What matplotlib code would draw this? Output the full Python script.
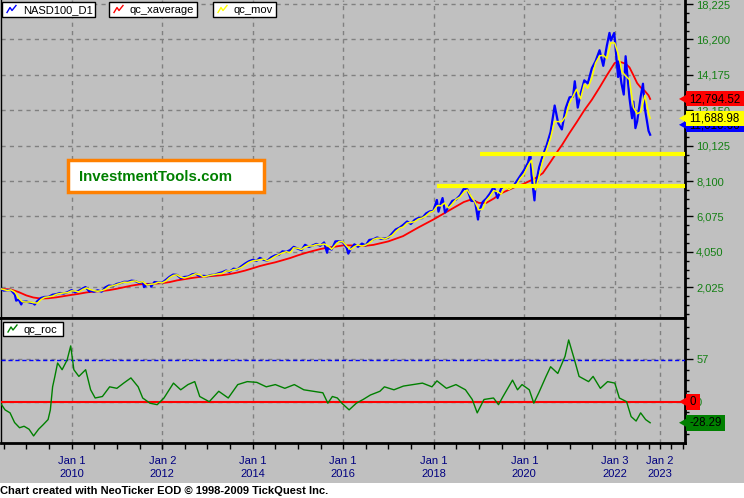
import matplotlib
matplotlib.use('Agg')
import matplotlib.pyplot as plt
import numpy as np
import pandas as pd
from matplotlib.patches import Rectangle, Polygon
from matplotlib.ticker import MultipleLocator, FixedLocator, FuncFormatter
from matplotlib.transforms import Bbox

plt.rcParams['font.family'] = ['Liberation Sans', 'DejaVu Sans']

# ---------------- data ----------------
blue_dates = [
    '2008-06-13', '2008-06-30', '2008-07-31', '2008-08-29', '2008-09-30', '2008-10-10', '2008-10-31',
    '2008-11-20', '2008-11-28', '2008-12-31',
    '2009-01-30', '2009-02-27', '2009-03-09', '2009-03-31', '2009-04-30', '2009-05-29', '2009-06-30',
    '2009-07-31', '2009-08-31', '2009-09-30', '2009-10-30', '2009-11-30', '2009-12-31',
    '2010-01-29', '2010-02-26', '2010-03-31', '2010-04-23', '2010-05-25', '2010-05-28', '2010-06-30',
    '2010-07-30', '2010-08-31', '2010-09-30', '2010-10-29', '2010-11-30', '2010-12-31',
    '2011-01-31', '2011-02-28', '2011-03-31', '2011-04-29', '2011-05-31', '2011-06-30', '2011-07-29',
    '2011-08-08', '2011-08-31', '2011-09-30', '2011-10-04', '2011-10-31', '2011-11-30', '2011-12-30',
    '2012-01-31', '2012-02-29', '2012-03-30', '2012-04-30', '2012-05-31', '2012-06-29', '2012-07-31',
    '2012-08-31', '2012-09-28', '2012-10-31', '2012-11-30', '2012-12-31',
    '2013-01-31', '2013-02-28', '2013-03-28', '2013-04-30', '2013-05-31', '2013-06-28', '2013-07-31',
    '2013-08-30', '2013-09-30', '2013-10-31', '2013-11-29', '2013-12-31',
    '2014-01-31', '2014-02-28', '2014-03-31', '2014-04-30', '2014-05-30', '2014-06-30', '2014-07-31',
    '2014-08-29', '2014-09-30', '2014-10-31', '2014-11-28', '2014-12-31',
    '2015-01-30', '2015-02-27', '2015-03-31', '2015-04-30', '2015-05-29', '2015-06-30', '2015-07-31',
    '2015-08-24', '2015-08-31', '2015-09-30', '2015-10-30', '2015-11-30', '2015-12-31',
    '2016-01-29', '2016-02-11', '2016-02-29', '2016-03-31', '2016-04-29', '2016-05-31', '2016-06-30',
    '2016-07-29', '2016-08-31', '2016-09-30', '2016-10-31', '2016-11-30', '2016-12-30',
    '2017-01-31', '2017-02-28', '2017-03-31', '2017-04-28', '2017-05-31', '2017-06-30', '2017-07-31',
    '2017-08-31', '2017-09-29', '2017-10-31', '2017-11-30', '2017-12-29',
    '2018-01-26', '2018-02-08', '2018-02-28', '2018-03-13', '2018-04-02', '2018-04-30', '2018-05-31',
    '2018-06-29', '2018-07-31', '2018-08-31', '2018-09-28', '2018-10-31', '2018-11-30', '2018-12-24',
    '2018-12-31',
    '2019-01-31', '2019-02-28', '2019-03-29', '2019-04-30', '2019-05-31', '2019-06-28', '2019-07-31',
    '2019-08-30', '2019-09-30', '2019-10-31', '2019-11-29', '2019-12-31',
    '2020-01-31', '2020-02-19', '2020-02-28', '2020-03-23', '2020-03-31', '2020-04-30', '2020-05-29',
    '2020-06-30', '2020-07-31', '2020-09-02', '2020-09-30', '2020-10-30', '2020-11-30', '2020-12-31',
    '2021-01-29', '2021-02-12', '2021-03-08', '2021-03-31', '2021-04-30', '2021-05-28', '2021-06-30',
    '2021-07-30', '2021-08-31', '2021-09-30', '2021-10-29', '2021-11-19', '2021-11-30', '2021-12-27',
    '2021-12-31',
    '2022-01-27', '2022-01-31', '2022-02-23', '2022-03-14', '2022-03-29', '2022-04-29', '2022-05-20',
    '2022-05-31', '2022-06-16', '2022-06-30', '2022-07-29', '2022-08-16', '2022-08-31', '2022-09-30',
    '2022-10-13',
]
blue_vals = [
    1930, 1837, 1860, 1872, 1604, 1260, 1329,
    1043, 1192, 1212,
    1149, 1110, 1036, 1237, 1417, 1475, 1477,
    1600, 1633, 1701, 1666, 1749, 1860,
    1738, 1817, 1957, 2040, 1780, 1863, 1770,
    1856, 1773, 2019, 2129, 2098, 2218,
    2266, 2338, 2339, 2406, 2378, 2274, 2327,
    2040, 2165, 2210, 2060, 2325, 2301, 2278,
    2451, 2623, 2753, 2734, 2538, 2616, 2640,
    2770, 2799, 2660, 2680, 2660,
    2731, 2738, 2819, 2887, 2983, 2910, 3090,
    3049, 3218, 3378, 3501, 3592,
    3530, 3709, 3596, 3552, 3736, 3849, 3880,
    4083, 4049, 4158, 4337, 4236,
    4152, 4455, 4334, 4417, 4508, 4397, 4589,
    4000, 4275, 4182, 4648, 4664, 4593,
    4280, 3950, 4202, 4483, 4341, 4524, 4418,
    4730, 4771, 4875, 4801, 4810, 4864,
    5114, 5330, 5436, 5584, 5788, 5647, 5880,
    5988, 5979, 6248, 6365, 6397,
    7022, 6350, 6854, 7130, 6300, 6606, 6968,
    7040, 7272, 7660, 7628, 6968, 6949, 5899,
    6330,
    6906, 7097, 7378, 7781, 7127, 7672, 7848,
    7663, 7750, 8084, 8403, 8733,
    9151, 9718, 8462, 6994, 7813, 8890, 9555,
    10157, 10905, 12420, 11418, 11052, 12268, 12888,
    12925, 13807, 12299, 13091, 13860, 13686, 14554,
    14959, 15582, 14689, 15850, 16573, 16135, 16567,
    16320,
    14050, 14930, 13700, 13046, 15239, 12855, 11690,
    12643, 11127, 11504, 12947, 13667, 12272, 10971,
    10750,
]

yellow_dates = [
    '2008-06-13', '2008-06-30', '2008-07-31', '2008-08-29', '2008-09-30', '2008-10-31', '2008-11-28', '2008-12-31',
    '2009-01-30', '2009-02-27', '2009-03-31', '2009-04-30', '2009-05-29', '2009-06-30', '2009-07-31', '2009-08-31',
    '2009-09-30', '2009-10-30', '2009-11-30', '2009-12-31',
    '2010-01-29', '2010-02-26', '2010-03-31', '2010-04-30', '2010-05-28', '2010-06-30', '2010-07-30', '2010-08-31',
    '2010-09-30', '2010-10-29', '2010-11-30', '2010-12-31',
    '2011-01-31', '2011-02-28', '2011-03-31', '2011-04-29', '2011-05-31', '2011-06-30', '2011-07-29', '2011-08-31',
    '2011-09-30', '2011-10-31', '2011-11-30', '2011-12-30',
    '2012-01-31', '2012-02-29', '2012-03-30', '2012-04-30', '2012-05-31', '2012-06-29', '2012-07-31', '2012-08-31',
    '2012-09-28', '2012-10-31', '2012-11-30', '2012-12-31',
    '2013-01-31', '2013-02-28', '2013-03-28', '2013-04-30', '2013-05-31', '2013-06-28', '2013-07-31', '2013-08-30',
    '2013-09-30', '2013-10-31', '2013-11-29', '2013-12-31',
    '2014-01-31', '2014-02-28', '2014-03-31', '2014-04-30', '2014-05-30', '2014-06-30', '2014-07-31', '2014-08-29',
    '2014-09-30', '2014-10-31', '2014-11-28', '2014-12-31',
    '2015-01-30', '2015-02-27', '2015-03-31', '2015-04-30', '2015-05-29', '2015-06-30', '2015-07-31', '2015-08-31',
    '2015-09-30', '2015-10-30', '2015-11-30', '2015-12-31',
    '2016-01-29', '2016-02-29', '2016-03-31', '2016-04-29', '2016-05-31', '2016-06-30', '2016-07-29', '2016-08-31',
    '2016-09-30', '2016-10-31', '2016-11-30', '2016-12-30',
    '2017-01-31', '2017-02-28', '2017-03-31', '2017-04-28', '2017-05-31', '2017-06-30', '2017-07-31', '2017-08-31',
    '2017-09-29', '2017-10-31', '2017-11-30', '2017-12-29',
    '2018-01-31', '2018-02-28', '2018-03-29', '2018-04-30', '2018-05-31', '2018-06-29', '2018-07-31', '2018-08-31',
    '2018-09-28', '2018-10-31', '2018-11-30', '2018-12-31',
    '2019-01-31', '2019-02-28', '2019-03-29', '2019-04-30', '2019-05-31', '2019-06-28', '2019-07-31', '2019-08-30',
    '2019-09-30', '2019-10-31', '2019-11-29', '2019-12-31',
    '2020-01-31', '2020-02-28', '2020-03-31', '2020-04-30', '2020-05-29', '2020-06-30', '2020-07-31', '2020-08-31',
    '2020-09-30', '2020-10-30', '2020-11-30', '2020-12-31',
    '2021-01-29', '2021-02-26', '2021-03-31', '2021-04-30', '2021-05-28', '2021-06-30', '2021-07-30', '2021-08-31',
    '2021-09-30', '2021-10-29', '2021-11-30', '2021-12-31',
    '2022-01-31', '2022-02-28', '2022-03-31', '2022-04-29', '2022-05-31', '2022-06-30', '2022-07-29', '2022-08-31',
    '2022-09-30', '2022-10-13',
]
yellow_vals = [
    1930, 1900, 1840, 1880, 1750, 1400, 1200, 1180,
    1190, 1140, 1120, 1330, 1450, 1480, 1520, 1620,
    1670, 1700, 1720, 1820,
    1810, 1760, 1900, 1990, 1900, 1830, 1800, 1830,
    1910, 2070, 2110, 2180,
    2250, 2320, 2300, 2360, 2390, 2300, 2350, 2150,
    2200, 2220, 2310, 2270,
    2380, 2570, 2700, 2740, 2600, 2560, 2620, 2720,
    2800, 2740, 2620, 2670,
    2720, 2750, 2790, 2820, 2960, 2950, 3030, 3070,
    3150, 3300, 3440, 3530,
    3560, 3600, 3650, 3540, 3650, 3790, 3900, 3990,
    4060, 4000, 4280, 4260,
    4190, 4330, 4390, 4390, 4470, 4450, 4500, 4400,
    4200, 4450, 4650, 4620,
    4380, 4180, 4350, 4450, 4380, 4440, 4560, 4760,
    4830, 4840, 4780, 4880,
    5000, 5220, 5400, 5470, 5700, 5730, 5780, 5930,
    5980, 6120, 6310, 6380,
    6700, 6680, 6850, 6560, 6800, 7050, 7180, 7450,
    7590, 7200, 6900, 6450,
    6500, 6990, 7220, 7550, 7500, 7350, 7770, 7620,
    7750, 7880, 8250, 8500,
    8980, 9300, 7600, 8400, 9250, 9900, 10550, 11500,
    11500, 11500, 11800, 12550,
    12950, 13350, 12800, 13650, 13400, 14000, 14850, 15250,
    15300, 15100, 16000, 16000,
    15300, 14350, 14100, 13900, 12300, 11950, 12050, 13000,
    12000, 11689,
]

red_dates = [
    '2008-06-13', '2008-08-29', '2008-10-31', '2008-12-31', '2009-02-27', '2009-04-30', '2009-06-30',
    '2009-08-31', '2009-10-30', '2009-12-31', '2010-02-26', '2010-04-30', '2010-06-30', '2010-08-31',
    '2010-10-29', '2010-12-31', '2011-02-28', '2011-04-29', '2011-06-30', '2011-08-31', '2011-10-31',
    '2011-12-30', '2012-02-29', '2012-04-30', '2012-06-29', '2012-08-31', '2012-10-31', '2012-12-31',
    '2013-02-28', '2013-04-30', '2013-06-28', '2013-08-30', '2013-10-31', '2013-12-31', '2014-02-28',
    '2014-04-30', '2014-06-30', '2014-08-29', '2014-10-31', '2014-12-31', '2015-02-27', '2015-04-30',
    '2015-06-30', '2015-08-31', '2015-10-30', '2015-12-31', '2016-02-29', '2016-04-29', '2016-06-30',
    '2016-08-31', '2016-10-31', '2016-12-30', '2017-04-28', '2017-08-31', '2017-12-29', '2018-04-30',
    '2018-08-31', '2018-10-31', '2018-12-31', '2019-02-28', '2019-04-30', '2019-06-28', '2019-08-30',
    '2019-10-31', '2019-12-31', '2020-03-31', '2020-05-29', '2020-07-31', '2020-09-30', '2020-10-30',
    '2020-12-31', '2021-02-26', '2021-04-30', '2021-06-30', '2021-08-31', '2021-10-29', '2021-12-31',
    '2022-01-31', '2022-02-28', '2022-03-31', '2022-04-29', '2022-05-31', '2022-06-30', '2022-07-29',
    '2022-08-31', '2022-09-30', '2022-10-13',
]
red_vals = [
    1930, 1900, 1750, 1560, 1440, 1380, 1400,
    1450, 1520, 1590, 1650, 1730, 1780, 1810,
    1860, 1940, 2030, 2120, 2190, 2220, 2230,
    2260, 2320, 2420, 2490, 2560, 2620, 2650,
    2680, 2720, 2780, 2870, 2980, 3110, 3240,
    3350, 3450, 3570, 3700, 3850, 3980, 4100,
    4210, 4300, 4350, 4420, 4420, 4400, 4400,
    4450, 4550, 4650, 4950, 5450, 5900, 6400,
    6900, 7050, 6850, 6850, 7100, 7400, 7600,
    7800, 7950, 8270, 8550, 9200, 9850, 10150,
    10850, 11450, 12150, 12750, 13450, 14150, 14850,
    14930, 14880, 14800, 14600, 14150, 13700, 13450,
    13250, 13000, 12795,
]

support_levels = [7805, 9630]
support_start = [2018.08, 2019.03]

roc_years = [
    2008.43, 2008.53, 2008.64, 2008.74, 2008.85, 2008.95, 2009.06, 2009.16, 2009.27, 2009.37,
    2009.48, 2009.53, 2009.58, 2009.63, 2009.69, 2009.79, 2009.90, 2009.98, 2010.05, 2010.16,
    2010.31, 2010.42, 2010.52, 2010.68, 2010.84, 2011.00, 2011.15, 2011.31, 2011.47, 2011.57,
    2011.73, 2011.89, 2012.04, 2012.25, 2012.41, 2012.57, 2012.72, 2012.83, 2013.04, 2013.25,
    2013.46, 2013.67, 2013.88, 2014.09, 2014.30, 2014.50, 2014.71, 2014.92, 2015.13, 2015.34,
    2015.55, 2015.66, 2015.76, 2015.87, 2015.97, 2016.13, 2016.29, 2016.44, 2016.60, 2016.81,
    2016.91, 2017.12, 2017.33, 2017.54, 2017.75, 2017.96, 2018.07, 2018.28, 2018.49, 2018.70,
    2018.85, 2018.96, 2019.11, 2019.32, 2019.43, 2019.53, 2019.74, 2019.85, 2019.95, 2020.11,
    2020.21, 2020.32, 2020.48, 2020.58, 2020.74, 2020.90, 2020.98, 2021.11, 2021.21, 2021.42,
    2021.52, 2021.68, 2021.84, 2022.00, 2022.10, 2022.26, 2022.36, 2022.47, 2022.57, 2022.68,
    2022.78,
]
roc_vals = [
    -2, -11, -15, -28, -35, -33, -37, -46, -37, -31,
    -24, -11, 20, 34, 52, 43, 56, 75, 43, 34,
    43, 16, 5, 7, 20, 18, 25, 32, 20, 5,
    -2, -4, 5, 25, 16, 23, 27, 7, 0, 14,
    5, 23, 27, 26, 20, 23, 18, 23, 16, 14,
    12, -2, 7, 5, -2, -11, -2, 3, 9, 14,
    20, 16, 21, 23, 25, 20, 28, 18, 23, 16,
    3, -15, 3, 5, -4, 7, 29, 16, 23, 16,
    -2, 12, 34, 47, 38, 61, 83, 56, 34, 27,
    34, 18, 27, 25, 5, 0, -20, -26, -15, -24,
    -28.29,
]

year_ticks = ['2010-01-01', '2012-01-02', '2014-01-01', '2016-01-01', '2018-01-01',
              '2020-01-01', '2022-01-03', '2023-01-02']
year_labels = ['Jan 1\n2010', 'Jan 2\n2012', 'Jan 1\n2014', 'Jan 1\n2016', 'Jan 1\n2018',
               'Jan 1\n2020', 'Jan 3\n2022', 'Jan 2\n2023']

label_price_red = 12794.52
label_price_yellow = 11688.98
label_price_blue_text = '11,010.66'
label_roc = -28.29


def dec(dates):
    d = pd.to_datetime(pd.Series(dates))
    return (d.dt.year + (d.dt.dayofyear - 1) / 365.25).to_numpy()


# ---------------- layout ----------------
W, H = 744, 498
BG = '#C0C0C0'
GRID = '#808080'
fig = plt.figure(figsize=(W / 100, H / 100), dpi=100, facecolor=BG)


def fx(px):
    return px / W


def fy(py):
    return 1 - py / H


XMIN, XMAX = 2008.44, 2023.55
ax = fig.add_axes([fx(1), fy(318), fx(685) - fx(1), fy(0) - fy(318)])
ax2 = fig.add_axes([fx(1), fy(443), fx(685) - fx(1), fy(318) - fy(443)])
for a in (ax, ax2):
    a.set_facecolor(BG)
    a.set_xlim(XMIN, XMAX)
    a.spines['left'].set_linewidth(1)
    a.spines['right'].set_linewidth(2)
    a.spines['bottom'].set_linewidth(2)
    a.spines['top'].set_linewidth(2)
    a.yaxis.tick_right()
    a.xaxis.set_major_locator(FixedLocator(dec(year_ticks)))
    a.grid(True, which='major', color=GRID, linestyle=(0, (3, 3)), linewidth=1)
    a.set_axisbelow(True)
ax.spines['top'].set_visible(False)

# main panel
ax.set_ylim(269, 18454)
ax.yaxis.set_major_locator(FixedLocator([2025 * k for k in range(1, 10)]))
ax.yaxis.set_minor_locator(MultipleLocator(506.25))
ax.yaxis.set_major_formatter(FuncFormatter(lambda v, p: f'{int(round(v)):,}'))
ax.tick_params(axis='y', which='major', length=6, width=1, pad=2, labelsize=8, colors='black')
ax.tick_params(axis='y', which='major', labelcolor='#148014')
ax.tick_params(axis='y', which='minor', length=3, width=1)
ax.tick_params(axis='x', which='both', length=0, labelbottom=False)

bx = dec(blue_dates)
ax.plot(dec(red_dates), red_vals, color='#FF0000', lw=1.3, zorder=3)
ax.plot(bx, blue_vals, color='#0000FF', lw=1.6, zorder=4)
ax.plot(dec(yellow_dates), yellow_vals, color='#FFFF00', lw=1.1, zorder=5)
for lvl, st in zip(support_levels, support_start):
    ax.hlines(lvl, st, XMAX, color='#FFFF00', lw=3, zorder=6)

# lower panel
ax2.set_ylim(-55.5, 112.5)
ax2.yaxis.set_major_locator(FixedLocator([0, 57]))
ax2.yaxis.set_minor_locator(MultipleLocator(14.25))
ax2.tick_params(axis='y', which='major', length=6, width=1, pad=2, labelsize=8, labelcolor='#148014')
ax2.tick_params(axis='y', which='minor', length=3, width=1)
ax2.axhline(0, color='#FF0000', lw=1.5, zorder=3)
ax2.axhline(55.5, color='#0000FF', lw=1, linestyle=(0, (3, 2)), zorder=3)
ax2.plot(roc_years, roc_vals, color='#008000', lw=1, zorder=4)
ax2.set_xticks(dec(year_ticks))
ax2.set_xticklabels(year_labels)
minor_x = [2008.5 + 0.5 * k for k in range(27)] + [2022.25, 2022.5, 2022.75, 2023.25, 2023.5]
ax2.xaxis.set_minor_locator(FixedLocator(minor_x))
ax2.tick_params(axis='x', which='major', direction='out', length=4, width=1, pad=5,
                labelsize=8, labelcolor='#000080')
ax2.tick_params(axis='x', which='minor', direction='out', length=4, width=1)
for t in ax2.get_xticklabels():
    t.set_linespacing(1.45)

# ---------------- overlay decorations ----------------
ov = fig.add_axes([0, 0, 1, 1], zorder=10)
ov.set_xlim(0, W)
ov.set_ylim(H, 0)
ov.axis('off')
ov.patch.set_alpha(0)

# white footer strip
ov.add_patch(Rectangle((0, 483), W, 15, facecolor='white', edgecolor='none'))
ov.text(0, 491, 'Chart created with NeoTicker EOD \u00a9 1998-2009 TickQuest Inc.',
        fontsize=8, fontweight='bold', va='center', ha='left', color='black')


def legend_box(x0, x1, y0, y1, text, color):
    ov.add_patch(Rectangle((x0, y0), x1 - x0, y1 - y0, facecolor='white', edgecolor='black', lw=1))
    ix = x0 + 5
    ym = (y0 + y1) / 2
    ov.plot([ix, ix + 3, ix + 5, ix + 9], [ym + 3, ym - 2, ym + 1, ym - 4], color=color, lw=1)
    ov.text(x0 + 21, ym + 0.5, text, fontsize=8, va='center', ha='left', color='black')


legend_box(2, 95, 2, 17, 'NASD100_D1', '#0000FF')
legend_box(109, 197, 2, 17, 'qc_xaverage', '#FF0000')
legend_box(213, 276, 2, 17, 'qc_mov', '#FFFF00')
legend_box(3, 63, 322, 336, 'qc_roc', '#008000')

# InvestmentTools box
ov.add_patch(Rectangle((68, 160), 196, 32, facecolor='white', edgecolor='#FF8000', lw=2.5))
ov.text(79, 176.5, 'InvestmentTools.com', fontsize=10.8, fontweight='bold', color='#008000',
        va='center', ha='left')


def ypix(axis, val):
    return H - axis.transData.transform((XMIN, val))[1]


def value_label(yc, text, color, x1=744, h=15, clip_top=None):
    ov.add_patch(Polygon([[679, yc], [686, yc - 4], [686, yc + 4]], closed=True,
                         facecolor=color, edgecolor='none'))
    ov.add_patch(Rectangle((686, yc - h / 2), x1 - 686, h, facecolor=color, edgecolor='none'))
    t = ov.text(689, yc + 0.5, text, fontsize=8.3, color='black', va='center', ha='left')
    if clip_top is not None:
        # only the part below clip_top (pixel row from top) stays visible
        t.set_clip_box(Bbox([[686, 0], [x1, H - clip_top]]))
        t.set_clip_on(True)
    return t


fig.canvas.draw()
y_red = ypix(ax, label_price_red)
y_yel = ypix(ax, label_price_yellow)
value_label(y_yel + 6.5, label_price_blue_text, '#0000FF', clip_top=y_yel + 7.5)
value_label(y_yel, f'{label_price_yellow:,.2f}', '#FFFF00')
value_label(y_red, f'{label_price_red:,.2f}', '#FF0000')
value_label(ypix(ax2, 0), '0', '#FF0000', x1=700, h=16)
value_label(ypix(ax2, label_roc), f'{label_roc:.2f}', '#008000', x1=725, h=16)

fig.savefig('out.png', dpi=100, facecolor=BG)
